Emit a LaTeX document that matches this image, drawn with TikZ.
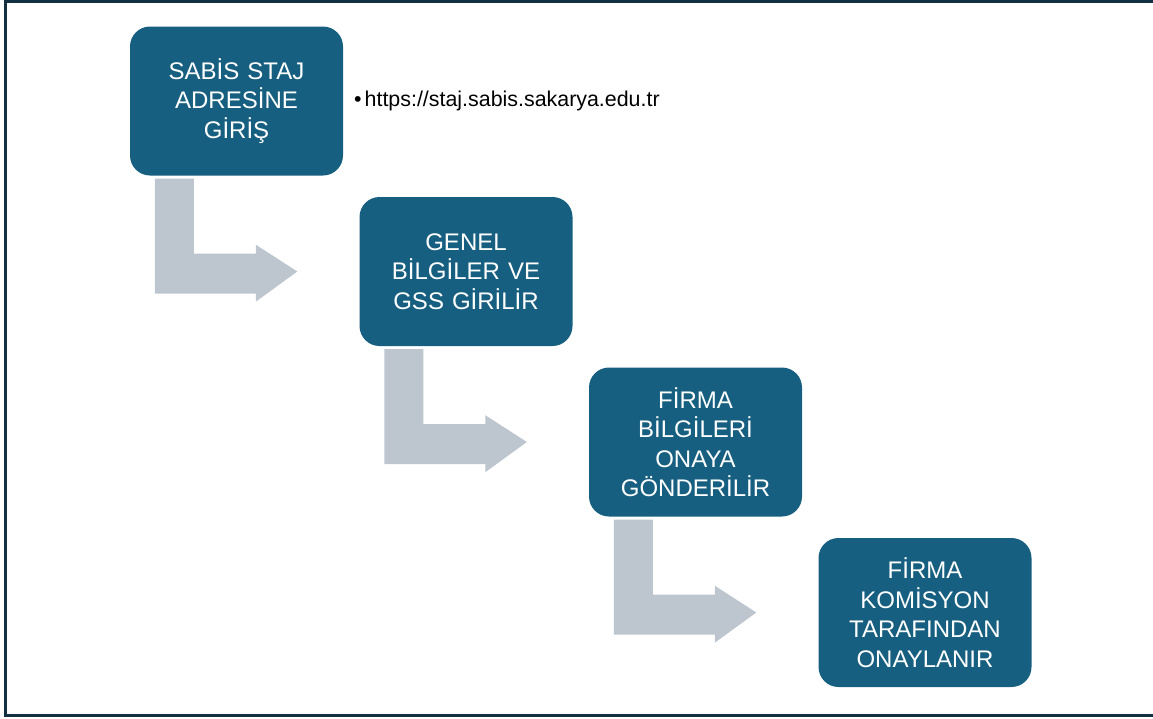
\documentclass[tikz,border=0pt]{standalone}
\usepackage{fontspec}
\setmainfont{Liberation Sans}
\usetikzlibrary{positioning,calc}
\definecolor{boxblue}{HTML}{175F80}
\definecolor{arrowgray}{HTML}{BDC5CF}
\definecolor{framedark}{HTML}{12303F}
\tikzset{
  stepbox/.style={fill=boxblue, rounded corners=20, minimum width=213, minimum height=149,
    text width=196, align=center, text=white, inner sep=0, font=\fontsize{24}{29.5}\selectfont},
  bendarrow/.style={fill=arrowgray}
}

\begin{document}
\begin{tikzpicture}[x=1pt, y=-1pt]
    \useasboundingbox (0,0) rectangle (1153,718);
    \draw[framedark, line width=3] (1153,1.5) -- (5.5,1.5) -- (5.5,715.5) -- (1153,715.5);
    \node[stepbox] (giris) at (236.5,101) {SABİS STAJ\\ADRESİNE\\GİRİŞ};
    \node[stepbox] (genel) at (466,271.5) {GENEL\\BİLGİLER VE\\GSS GİRİLİR};
    \node[stepbox] (firma) at (695.5,442) {FİRMA\\BİLGİLERİ\\ONAYA\\GÖNDERİLİR};
    \node[stepbox] (onay) at (925,612.5) {FİRMA\\KOMİSYON\\TARAFINDAN\\ONAYLANIR};
    \node[anchor=west, inner sep=0, font=\fontsize{21.4}{25}\selectfont] (url) at (354,100.5) {•\hspace{3pt}https://staj.sabis.sakarya.edu.tr};
    % bent arrows between the steps
    \fill[bendarrow] ($(giris.south west)+(25,3)$) -- ++(39,0) -- ++(0,75) -- ++(62,0) -- ++(0,-9)
      -- ($(genel.west)+(-62,0)$) -- ($(giris.south west)+(126,126)$) -- ++(0,-8) -- ++(-101,0) -- cycle;
    \fill[bendarrow] ($(genel.south west)+(25,3)$) -- ++(39,0) -- ++(0,75) -- ++(62,0) -- ++(0,-9)
      -- ($(firma.west)+(-62,0)$) -- ($(genel.south west)+(126,126)$) -- ++(0,-8) -- ++(-101,0) -- cycle;
    \fill[bendarrow] ($(firma.south west)+(25,3)$) -- ++(39,0) -- ++(0,75) -- ++(62,0) -- ++(0,-9)
      -- ($(onay.west)+(-62,0)$) -- ($(firma.south west)+(126,126)$) -- ++(0,-8) -- ++(-101,0) -- cycle;
\end{tikzpicture}
\end{document}
